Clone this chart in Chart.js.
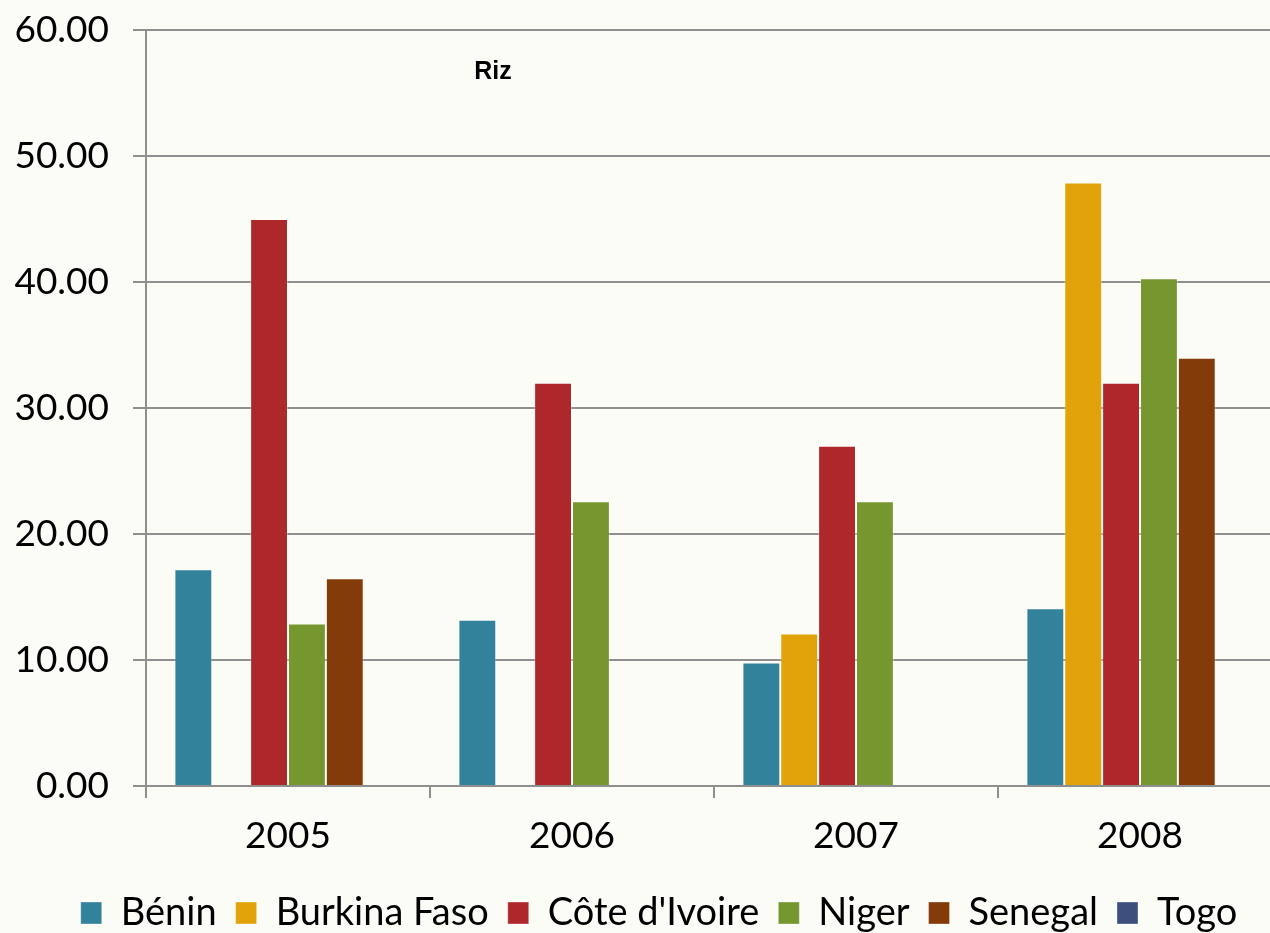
<!DOCTYPE html>
<html>
<head>
<meta charset="utf-8">
<script src="https://cdn.jsdelivr.net/npm/chart.js@4"></script>
<style>
  html, body { margin: 0; padding: 0; overflow: hidden; background: #fcfcf7; }
  #wrap { width: 1290px; height: 933px; position: relative; }
</style>
</head>
<body>
<div id="wrap"><canvas id="myChart"></canvas></div>
<script>
const years = ["2005", "2006", "2007", "2008"];

const benin = [17.2, 13.2, 9.8, 14.1];
const burkina = [null, null, 12.1, 47.9];
const coteIvoire = [45.0, 32.0, 27.0, 32.0];
const niger = [12.9, 22.6, 22.6, 40.3];
const senegal = [16.5, null, null, 34.0];
const togo = [null, null, null, null];

const seriesNames = ["Bénin", "Burkina Faso", "Côte d'Ivoire", "Niger", "Senegal", "Togo"];
const seriesColors = ["#31829a", "#e1a309", "#ad272b", "#76962f", "#843b0a", "#3f4f7d"];

const yTicks = { min: 0, max: 60, step: 10 };

const font = "Lato, 'Open Sans', sans-serif";

const ctx = document.getElementById('myChart');

// small "Riz" title sits inside the plot area
const titlePlugin = {
    id: 'rizTitle',
    afterLayout(chart) {
        // legend is a bit right of centre in the original
        chart.legend.left += 18;
        chart.legend.right += 18;
    },
    afterDraw(chart) {
        const c = chart.ctx;
        c.save();
        c.font = "bold 25px 'Liberation Sans', Arial, sans-serif";
        c.fillStyle = "#000";
        c.textAlign = "center";
        c.textBaseline = "alphabetic";
        c.fillText("Riz", 493, 79);
        c.restore();
    }
};

const data = {
    labels: years,
    datasets: [benin, burkina, coteIvoire, niger, senegal, togo].map((vals, i) => ({
        label: seriesNames[i],
        data: vals,
        backgroundColor: seriesColors[i],
        borderColor: "rgba(255,255,255,0.35)",
        borderWidth: 1,
        categoryPercentage: 0.8,
        barPercentage: 1.0
    }))
};

const config = {
    type: 'bar',
    data: data,
    plugins: [titlePlugin],
    options: {
        responsive: true,
        maintainAspectRatio: false,
        animation: false,
        layout: { padding: { top: 0, right: 8, left: 0, bottom: -9 } },
        plugins: {
            legend: {
                position: 'bottom',
                labels: {
                    color: "#000",
                    font: { family: font, size: 38 },
                    boxWidth: 21,
                    boxHeight: 22,
                    padding: 19
                }
            },
            tooltip: { enabled: false }
        },
        scales: {
            x: {
                grid: {
                    offset: true,
                    drawOnChartArea: false,
                    drawTicks: true,
                    tickLength: 12,
                    color: "#8f8f8f",
                    lineWidth: 2
                },
                border: { color: "#8f8f8f", width: 2 },
                ticks: {
                    color: "#000",
                    font: { family: font, size: 37 },
                    padding: 16
                },
                afterFit(scale) { scale.height = 89; }
            },
            y: {
                min: yTicks.min,
                max: yTicks.max,
                grid: {
                    color: "#8f8f8f",
                    lineWidth: 2,
                    tickLength: 13
                },
                border: { color: "#8f8f8f", width: 2 },
                ticks: {
                    stepSize: yTicks.step,
                    color: "#000",
                    font: { family: font, size: 37, lineHeight: 0.33 },
                    padding: 24,
                    callback: v => v.toFixed(2)
                },
                afterFit(scale) { scale.width = 146; }
            }
        }
    }
};

let myChart = new Chart(ctx, config);
</script>
</body>
</html>
